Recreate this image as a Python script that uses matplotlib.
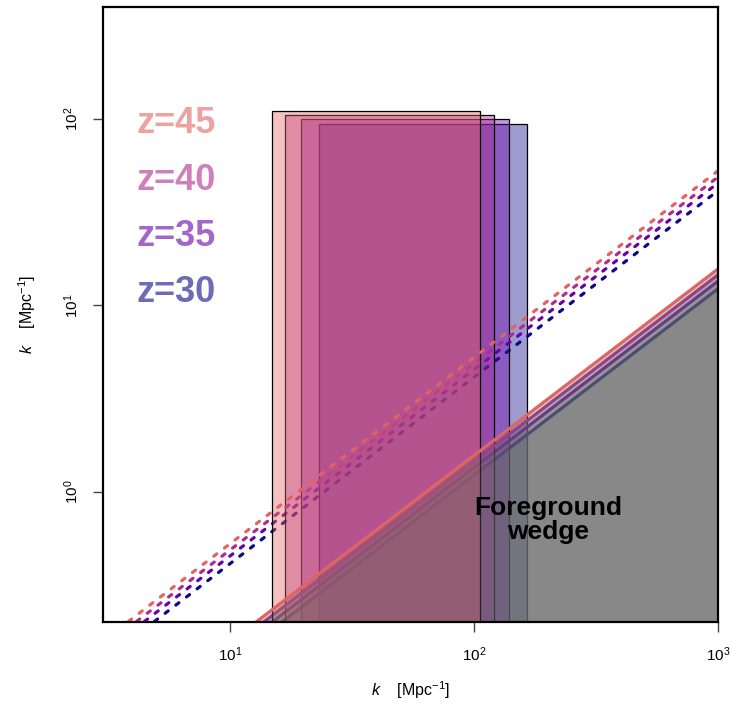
import numpy as np
import matplotlib
matplotlib.use("Agg")
import matplotlib.pyplot as plt
from matplotlib.patches import Rectangle
from matplotlib.colors import to_rgba

plt.rcParams['font.family'] = ['Liberation Sans', 'DejaVu Sans']
plt.rcParams['mathtext.fontset'] = 'custom'
plt.rcParams['mathtext.rm'] = 'Liberation Sans'
plt.rcParams['mathtext.it'] = 'Liberation Sans:italic'
plt.rcParams['mathtext.bf'] = 'Liberation Sans:bold'

# redshift bins, drawn low z first
redshifts = [30, 35, 40, 45]
colors = ['#0D0887', '#6A00A8', '#B12A90', '#E16462']

# survey boxes in (k_perp, k_par)
kperp_min = [23.0, 19.4, 16.8, 14.8]
kperp_max = [164.4, 138.7, 120.0, 105.8]
kpar_min = [0.05, 0.05, 0.05, 0.05]
kpar_max = [94.4, 100.0, 105.5, 110.8]

# wedge lines k_par = slope * k_perp
wedge_slope = [0.0123, 0.0135, 0.0146, 0.0157]
buffer_slope = [0.0413, 0.0454, 0.0489, 0.0528]

label_y = [0.5203, 0.6114, 0.7024, 0.7956]

fig = plt.figure(figsize=(7.31, 7.10), dpi=100)
ax = fig.add_axes([103/731, 1 - 622/710, 615/731, 615/710])
ax.set_xscale('log')
ax.set_yscale('log')

kk = np.array([1.0, 3000.0])

# one layer per redshift: box, wedge, horizon line, buffer line
for i, z in enumerate(redshifts):
    zo = 1 + i
    r = Rectangle((kperp_min[i], kpar_min[i]), kperp_max[i] - kperp_min[i],
                  kpar_max[i] - kpar_min[i],
                  facecolor=to_rgba(colors[i], 0.4), edgecolor='black', lw=0.9,
                  zorder=zo)
    ax.add_patch(r)
    ax.fill_between(kk, 1e-3, wedge_slope[i] * kk, color='#6b6b6b', alpha=0.33,
                    lw=0, zorder=zo + 0.1)
    ax.plot(kk, wedge_slope[i] * kk, color=colors[i], lw=2.3,
            solid_capstyle='butt', zorder=zo + 0.2)
    ax.plot(kk, buffer_slope[i] * kk, color=colors[i], lw=2.3,
            ls=(0, (1.2, 3.0)), dash_capstyle='round', zorder=zo + 0.3)

for i, z in enumerate(redshifts):
    ax.text(0.055, label_y[i], 'z=%d' % z, transform=ax.transAxes,
            color=colors[i], alpha=0.6, fontsize=26, fontweight='bold',
            va='baseline', ha='left', zorder=10)

ax.text(0.7236, 0.1659, 'Foreground\nwedge', transform=ax.transAxes,
        fontsize=19, fontweight='bold', ha='center', va='center',
        linespacing=1.0, zorder=11)

ax.set_xlim(3, 1000)
ax.set_ylim(0.2, 400)
ax.minorticks_off()

ax.tick_params(axis='both', which='major', direction='out', length=7,
               width=1.0, color='#444444', labelsize=11)
ax.tick_params(axis='x', pad=10)
ax.tick_params(axis='y', pad=9, labelrotation=90)
for lab in ax.get_yticklabels():
    lab.set_va('center')

for sp in ax.spines.values():
    sp.set_linewidth(1.6)
    sp.set_zorder(12)

ax.set_xlabel(r'$k$    [Mpc$^{-1}$]', fontsize=11.5)
ax.set_ylabel(r'$k$    [Mpc$^{-1}$]', fontsize=11.5)
ax.xaxis.set_label_coords(0.5, -0.1106)
ax.xaxis.label.set_va('center')
ax.yaxis.set_label_coords(-0.1236, 0.5)
ax.yaxis.label.set_va('center')

fig.savefig('out.png', dpi=100)
